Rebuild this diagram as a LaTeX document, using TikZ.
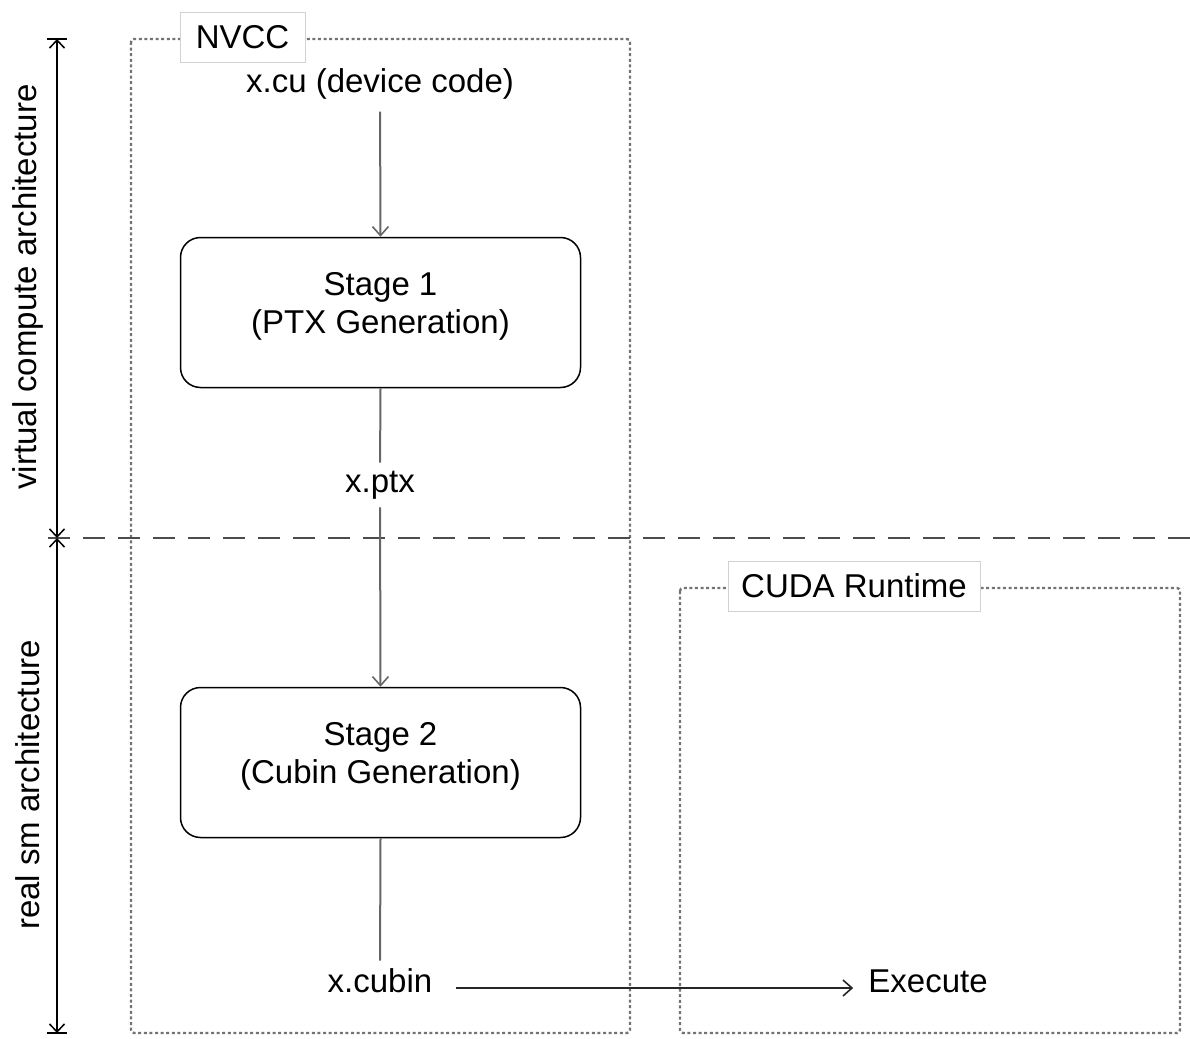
\documentclass[tikz,border=0pt]{standalone}
\usepackage{fontspec}
\setmainfont{Liberation Sans}
\usetikzlibrary{arrows.meta}
\begin{document}
\begin{tikzpicture}[x=1pt,y=-1pt,font=\fontsize{33}{38}\selectfont,
  grp/.style={draw=black!55,line width=2.4pt,dash pattern=on 3pt off 2.6pt,rounded corners=3pt},
  grplbl/.style={draw=black!18,fill=white,line width=0.9pt,inner sep=0pt,minimum height=50pt},
  stagebox/.style={draw=black,line width=1.5pt,rounded corners=20pt,minimum width=400pt,minimum height=150pt,inner sep=0pt},
  stagetxt/.style={align=center,yshift=6pt},
  txt/.style={inner sep=0pt},
  flow/.style={draw=black!60,line width=2pt},
  tip/.style={-{Straight Barb[length=9pt,width=16pt,line width=1.6pt]}},
  dim/.style={draw=black,line width=1.5pt,{Straight Barb[length=8pt,width=15pt,line width=1.5pt]}-{Straight Barb[length=8pt,width=15pt,line width=1.5pt]}},
  bar/.style={draw=black,line width=1.5pt}
]
\useasboundingbox (0,0) rectangle (1190,1038);

% group boxes
\draw[grp] (131,39) rectangle (630,1033);
\node[grplbl,minimum width=125pt] (nvcc) at (242.5,37.5) {NVCC};
\draw[grp] (680,588) rectangle (1180,1033);
\node[grplbl,minimum width=252pt] (rt) at (854,586) {CUDA Runtime};

% separator
\draw[draw=black!70,line width=2pt,dash pattern=on 22pt off 13pt] (48,538) -- (1190,538);

% dimension lines
\coordinate (d1) at (57,39);
\coordinate (d2) at (57,538);
\coordinate (d3) at (57,1033);
\draw[dim] (d1) -- (d2);
\draw[dim] (d2) -- (d3);
\draw[bar] ([xshift=-10pt]d1) -- ([xshift=10pt]d1);
\draw[bar] ([xshift=-10pt]d3) -- ([xshift=10pt]d3);
\node[txt,rotate=90] (vca) at (28,287) {virtual compute architecture};
\node[txt,rotate=90] (rsa) at (28,785) {real sm architecture};

% flow
\node[txt] (cu) at (380,84) {x.cu (device code)};
\node[stagebox,label={[stagetxt]center:Stage 1\\(PTX Generation)}] (s1) at (380.5,312.5) {};
\node[txt] (ptx) at (380,485) {x.ptx};
\node[stagebox,label={[stagetxt]center:Stage 2\\(Cubin Generation)}] (s2) at (380.5,762.5) {};
\node[txt] (cubin) at (380,981) {x.cubin};
\node[txt] (exec) at (928,981) {Execute};

\draw[flow,tip,shorten <=12pt] (cu.south) -- (s1.north);
\draw[flow,shorten >=8pt] (s1.south) -- (ptx.north);
\draw[flow,tip,shorten <=8pt] (ptx.south) -- (s2.north);
\draw[flow,shorten >=8pt] (s2.south) -- (cubin.north);
\draw[draw=black!85,line width=1.5pt,tip] ([xshift=24pt,yshift=-7pt]cubin.east) -- ([xshift=-15pt,yshift=-7pt]exec.west);
\end{tikzpicture}
\end{document}
